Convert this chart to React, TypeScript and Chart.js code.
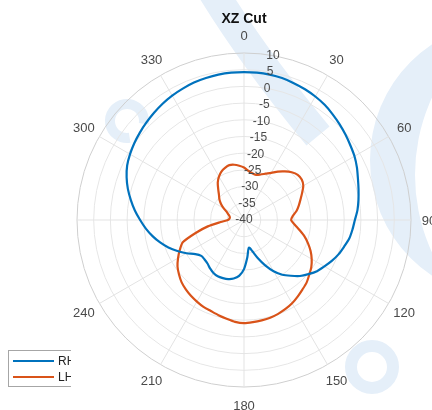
import { useEffect, useRef } from 'react';
import { Chart, registerables } from 'chart.js';

Chart.register(...registerables);

// Angular categories (degrees, clockwise from top)
const ANGLES = [
  0, 5, 10, 15, 20, 25, 30, 35, 40, 45, 50, 55,
  60, 65, 70, 75, 80, 85, 90, 95, 100, 105, 110, 115,
  120, 125, 130, 135, 140, 145, 150, 155, 160, 165, 170, 175,
  180, 185, 190, 195, 200, 205, 210, 215, 220, 225, 230, 235,
  240, 245, 250, 255, 260, 265, 270, 275, 280, 285, 290, 295,
  300, 305, 310, 315, 320, 325, 330, 335, 340, 345, 350, 355,
];

// the 270 label is not visible in the reference
const THETA_TICKS = ['0', '30', '60', '90', '120', '150', '180', '210', '240', '300', '330'];
const R_TICKS = [10, 5, 0, -5, -10, -15, -20, -25, -30, -35, -40];
const R_LABEL_ANGLE = 10;

const TITLE = 'XZ Cut';
const SERIES_NAMES = ['RHCP', 'LHCP'];

const RHCP = [
  4.3, 4.3, 4.2, 4.0, 3.6, 3.2, 2.7, 2.1, 1.3, 0.5, -0.3, -1.1,
  -1.8, -2.7, -3.7, -4.5, -5.2, -5.9, -6.8, -7.4, -8.0, -9.0, -9.9, -11.0,
  -12.2, -13.3, -14.8, -16.3, -18.2, -20.0, -22.3, -25.0, -27.8, -30.3, -31.6, -28.7,
  -25.3, -23.2, -22.2, -21.7, -21.5, -21.4, -21.7, -22.3, -23.0, -23.3, -23.3, -22.2,
  -20.1, -18.0, -15.9, -14.0, -12.2, -10.5, -8.9, -7.2, -5.6, -4.0, -2.6, -1.4,
  -0.6, 0.1, 0.7, 1.3, 1.9, 2.5, 3.0, 3.4, 3.8, 4.0, 4.2, 4.3,
];

const LHCP = [
  -24.3, -25.2, -25.8, -26.0, -25.5, -24.7, -23.7, -22.3, -21.0, -19.8, -19.0, -18.9,
  -19.5, -20.8, -22.0, -23.0, -24.0, -25.3, -25.9, -24.8, -23.2, -21.3, -19.6, -18.0,
  -16.6, -15.4, -14.5, -13.5, -12.8, -12.0, -11.2, -10.6, -10.1, -9.7, -9.5, -9.3,
  -9.1, -9.4, -10.0, -10.5, -11.0, -11.3, -11.8, -12.3, -12.9, -13.6, -14.6, -15.7,
  -17.2, -18.8, -20.5, -25.0, -29.0, -33.0, -35.2, -35.6, -35.7, -35.5, -35.0, -34.3,
  -33.0, -31.6, -30.4, -29.4, -28.0, -26.3, -25.0, -24.0, -23.4, -23.0, -23.2, -23.7,
];

const FONT = '"Liberation Sans", Arial, Helvetica, sans-serif';
const BLUE = '#0072BD';
const ORANGE = '#D95319';
const WATERMARK = '#e5eff9';

const overlay = {
  id: 'overlay',
  beforeDraw(chart: any) {
    const ctx = chart.ctx;
    ctx.save();
    ctx.fillStyle = WATERMARK;
    ctx.strokeStyle = WATERMARK;
    // diagonal band from the top
    ctx.lineWidth = 30;
    ctx.lineCap = 'butt';
    ctx.beginPath();
    ctx.moveTo(212, -10);
    ctx.quadraticCurveTo(255, 60, 318, 136);
    ctx.stroke();
    // crescent on the right
    ctx.beginPath();
    ctx.arc(509, 160, 139, 0, Math.PI * 2);
    ctx.arc(600, 175, 185, 0, Math.PI * 2);
    ctx.fill('evenodd');
    // small ring bottom right
    ctx.lineWidth = 12;
    ctx.beginPath();
    ctx.arc(372, 367, 21, 0, Math.PI * 2);
    ctx.stroke();
    // small "c" on the left
    ctx.lineWidth = 10;
    ctx.beginPath();
    ctx.arc(127, 121, 17, Math.PI * 0.45, Math.PI * 2.05);
    ctx.stroke();
    ctx.restore();
  },
  afterDraw(chart: any) {
    const ctx = chart.ctx;
    const s = chart.scales.r;
    ctx.save();
    ctx.textAlign = 'center';
    ctx.textBaseline = 'middle';
    // angle labels
    ctx.font = '13px ' + FONT;
    ctx.fillStyle = '#4a4a4a';
    THETA_TICKS.forEach((t) => {
      const i = ANGLES.indexOf(Number(t));
      const p = s.getPointPosition(i, s.drawingArea + 18);
      ctx.fillText(t, p.x, p.y + 1);
    });
    // radial labels along the 10 degree spoke
    ctx.font = '12px ' + FONT;
    const ri = ANGLES.indexOf(R_LABEL_ANGLE);
    R_TICKS.forEach((v) => {
      const p = s.getPointPositionForValue(ri, v);
      ctx.fillText(String(v), p.x, p.y);
    });
    ctx.restore();

    // legend (cut off at the right like the reference)
    ctx.save();
    ctx.beginPath();
    ctx.rect(0, 340, 71, 60);
    ctx.clip();
    ctx.fillStyle = '#ffffff';
    ctx.fillRect(8.5, 350.5, 90, 36);
    ctx.strokeStyle = '#a6a6a6';
    ctx.lineWidth = 1;
    ctx.strokeRect(8.5, 350.5, 90, 36);
    ctx.font = '12px ' + FONT;
    ctx.textAlign = 'left';
    ctx.textBaseline = 'middle';
    chart.data.datasets.forEach((ds: any, k: number) => {
      const y = 361 + k * 16;
      ctx.strokeStyle = ds.borderColor;
      ctx.lineWidth = 2;
      ctx.beginPath();
      ctx.moveTo(13, y);
      ctx.lineTo(54, y);
      ctx.stroke();
      ctx.fillStyle = '#222222';
      ctx.fillText(ds.label, 58, y + 0.5);
    });
    ctx.restore();
  },
};

export default function App() {
  const ref = useRef<HTMLCanvasElement | null>(null);

  useEffect(() => {
    if (!ref.current) return;
    const chart = new Chart(ref.current, {
      type: 'radar',
      data: {
        labels: ANGLES.map(String),
        datasets: [
          {
            label: SERIES_NAMES[0],
            data: RHCP,
            borderColor: BLUE,
            backgroundColor: BLUE,
            borderWidth: 2.2,
            pointRadius: 0,
            fill: false,
            tension: 0.25,
          },
          {
            label: SERIES_NAMES[1],
            data: LHCP,
            borderColor: ORANGE,
            backgroundColor: ORANGE,
            borderWidth: 2.2,
            pointRadius: 0,
            fill: false,
            tension: 0.25,
          },
        ],
      },
      options: {
        animation: false,
        responsive: false,
        layout: { padding: { left: 77, right: 21, top: 0, bottom: 22 } },
        plugins: {
          legend: { display: false },
          tooltip: { enabled: false },
          title: {
            display: true,
            text: TITLE,
            color: '#111111',
            font: { family: FONT, size: 14, weight: 'bold' },
            padding: { top: 11, bottom: 25 },
          },
        },
        scales: {
          r: {
            min: -40,
            max: 10,
            startAngle: 0,
            ticks: { stepSize: 5, display: false },
            pointLabels: { display: false },
            grid: {
              circular: true,
              color: (c: any) => (c.tick && c.tick.value === 10 ? '#cfcfcf' : '#e6e6e6'),
              lineWidth: 1,
            },
            angleLines: {
              display: true,
              color: '#e3e3e3',
              lineWidth: (c: any) => (ANGLES[c.index] % 30 === 0 ? 1 : 0),
            },
          },
        },
      },
      plugins: [overlay],
    } as any);
    return () => chart.destroy();
  }, []);

  return (
    <div style={{ position: 'fixed', left: 0, top: 0, width: 432, height: 410, background: '#fff' }}>
      <canvas ref={ref} width={432} height={410} style={{ display: 'block' }} />
    </div>
  );
}
